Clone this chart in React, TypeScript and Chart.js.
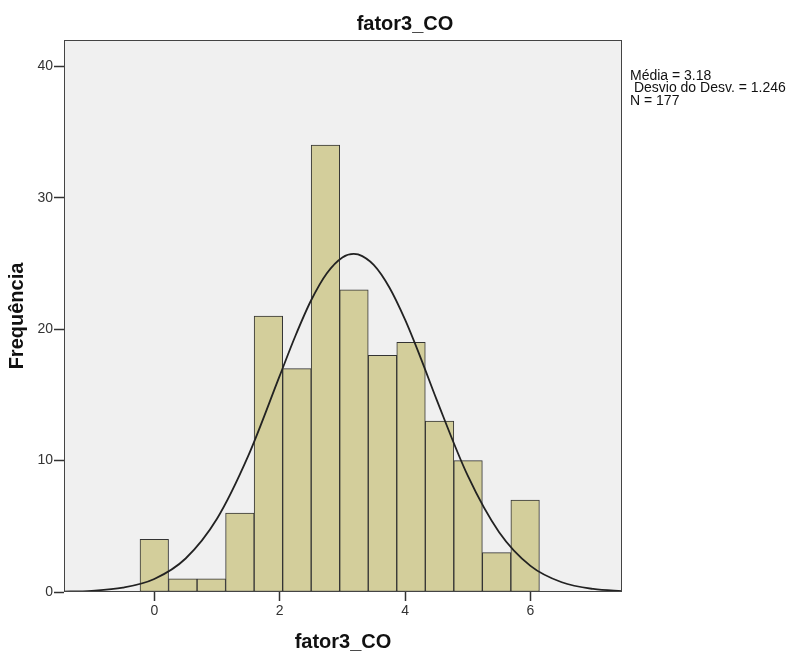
import React, { useEffect, useRef } from "react";
import { Chart, registerables } from "chart.js";

Chart.register(...registerables);

const binCenters = [0, 0.455, 0.91, 1.365, 1.82, 2.275, 2.73, 3.185, 3.64, 4.095, 4.55, 5.005, 5.46, 5.915];
const binCounts = [4, 1, 1, 6, 21, 17, 34, 23, 18, 19, 13, 10, 3, 7];

const curveX = [-1.5, -1, -0.5, 0, 0.5, 1, 1.5, 2, 2.25, 2.5, 2.75, 3, 3.18, 3.25, 3.5, 3.75, 4, 4.25, 4.5, 5, 5.5, 6, 6.5, 7, 7.5];
const curveY = [0.02, 0.09, 0.33, 0.99, 2.55, 5.57, 10.37, 16.44, 19.48, 22.18, 24.24, 25.46, 25.73, 25.69, 24.89, 23.17, 20.72, 17.8, 14.68, 8.85, 4.55, 1.99, 0.74, 0.23, 0.06];

const xTicks = [0, 2, 4, 6];
const yTicks = [0, 10, 20, 30, 40];

const titleText = "fator3_CO";
const xTitle = "fator3_CO";
const yTitle = "Frequência";
const statLines = ["Média = 3.18", " Desvio do Desv. = 1.246", "N = 177"];

const FONT = "'Liberation Sans', Arial, sans-serif";

export default function App() {
  const ref = useRef<HTMLCanvasElement | null>(null);

  useEffect(() => {
    const canvas = ref.current;
    if (!canvas) return;

    const decor = {
      id: "decor",
      beforeDatasetsDraw(chart: any) {
        const { ctx, chartArea: a } = chart;
        ctx.save();
        ctx.fillStyle = "#f0f0f0";
        ctx.fillRect(a.left, a.top, a.right - a.left, a.bottom - a.top);
        ctx.restore();
      },
      afterDraw(chart: any) {
        const { ctx, chartArea: a } = chart;
        ctx.save();
        ctx.strokeStyle = "#444";
        ctx.lineWidth = 1;
        ctx.strokeRect(a.left + 0.5, a.top + 0.5, a.right - a.left - 1, a.bottom - a.top - 1);

        ctx.fillStyle = "#111";
        ctx.font = `bold 20px ${FONT}`;
        ctx.textAlign = "center";
        ctx.textBaseline = "alphabetic";
        ctx.fillText(titleText, 405, 30);
        ctx.fillText(xTitle, (a.left + a.right) / 2, 648);

        ctx.save();
        ctx.translate(22.5, (a.top + a.bottom) / 2);
        ctx.rotate(-Math.PI / 2);
        ctx.fillText(yTitle, 0, 0);
        ctx.restore();

        ctx.font = `14px ${FONT}`;
        ctx.textAlign = "left";
        ctx.fillStyle = "#111";
        const bases = [79.5, 92, 104.5];
        statLines.forEach((s, i) => ctx.fillText(s, 630, bases[i]));
        ctx.restore();
      },
    };

    const chart = new Chart(canvas, {
      type: "bar",
      data: {
        datasets: [
          {
            type: "line",
            data: curveX.map((x, i) => ({ x, y: curveY[i] })),
            borderColor: "#222",
            borderWidth: 1.8,
            pointRadius: 0,
            cubicInterpolationMode: "monotone",
            fill: false,
            order: 0,
          } as any,
          {
            type: "bar",
            data: binCenters.map((x, i) => ({ x, y: binCounts[i] })),
            backgroundColor: "#d3ce9b",
            borderColor: "#333",
            borderWidth: 1,
            borderSkipped: false,
            barPercentage: 1,
            categoryPercentage: 1,
            order: 1,
          } as any,
        ],
      },
      options: {
        responsive: false,
        animation: false,
        events: [],
        layout: { padding: { top: 40, right: 177, left: 0, bottom: 0 } },
        plugins: { legend: { display: false }, tooltip: { enabled: false }, title: { display: false } },
        scales: {
          x: {
            type: "linear",
            min: -1.44,
            max: 7.46,
            offset: false,
            afterBuildTicks(scale: any) {
              scale.ticks = xTicks.map((v) => ({ value: v }));
            },
            afterFit(scale: any) {
              scale.height = 66;
            },
            grid: {
              display: true,
              offset: false,
              drawOnChartArea: false,
              drawTicks: true,
              tickLength: 9,
              tickColor: "#333",
              tickWidth: 1.5,
            },
            border: { display: false },
            ticks: { font: { family: FONT, size: 14 }, color: "#333", padding: 2, maxRotation: 0 },
          },
          y: {
            type: "linear",
            min: 0,
            max: 42,
            afterBuildTicks(scale: any) {
              scale.ticks = yTicks.map((v) => ({ value: v }));
            },
            afterFit(scale: any) {
              scale.width = 64;
            },
            grid: {
              display: true,
              drawOnChartArea: false,
              drawTicks: true,
              tickLength: 10,
              tickColor: "#333",
              tickWidth: 1.5,
            },
            border: { display: false },
            ticks: { font: { family: FONT, size: 14 }, color: "#333", padding: 1 },
          },
        },
      } as any,
      plugins: [decor],
    });

    return () => chart.destroy();
  }, []);

  return (
    <div style={{ position: "absolute", left: 0, top: 0, width: 799, height: 658, background: "#fff" }}>
      <canvas ref={ref} width={799} height={658} style={{ width: 799, height: 658, display: "block" }} />
    </div>
  );
}
